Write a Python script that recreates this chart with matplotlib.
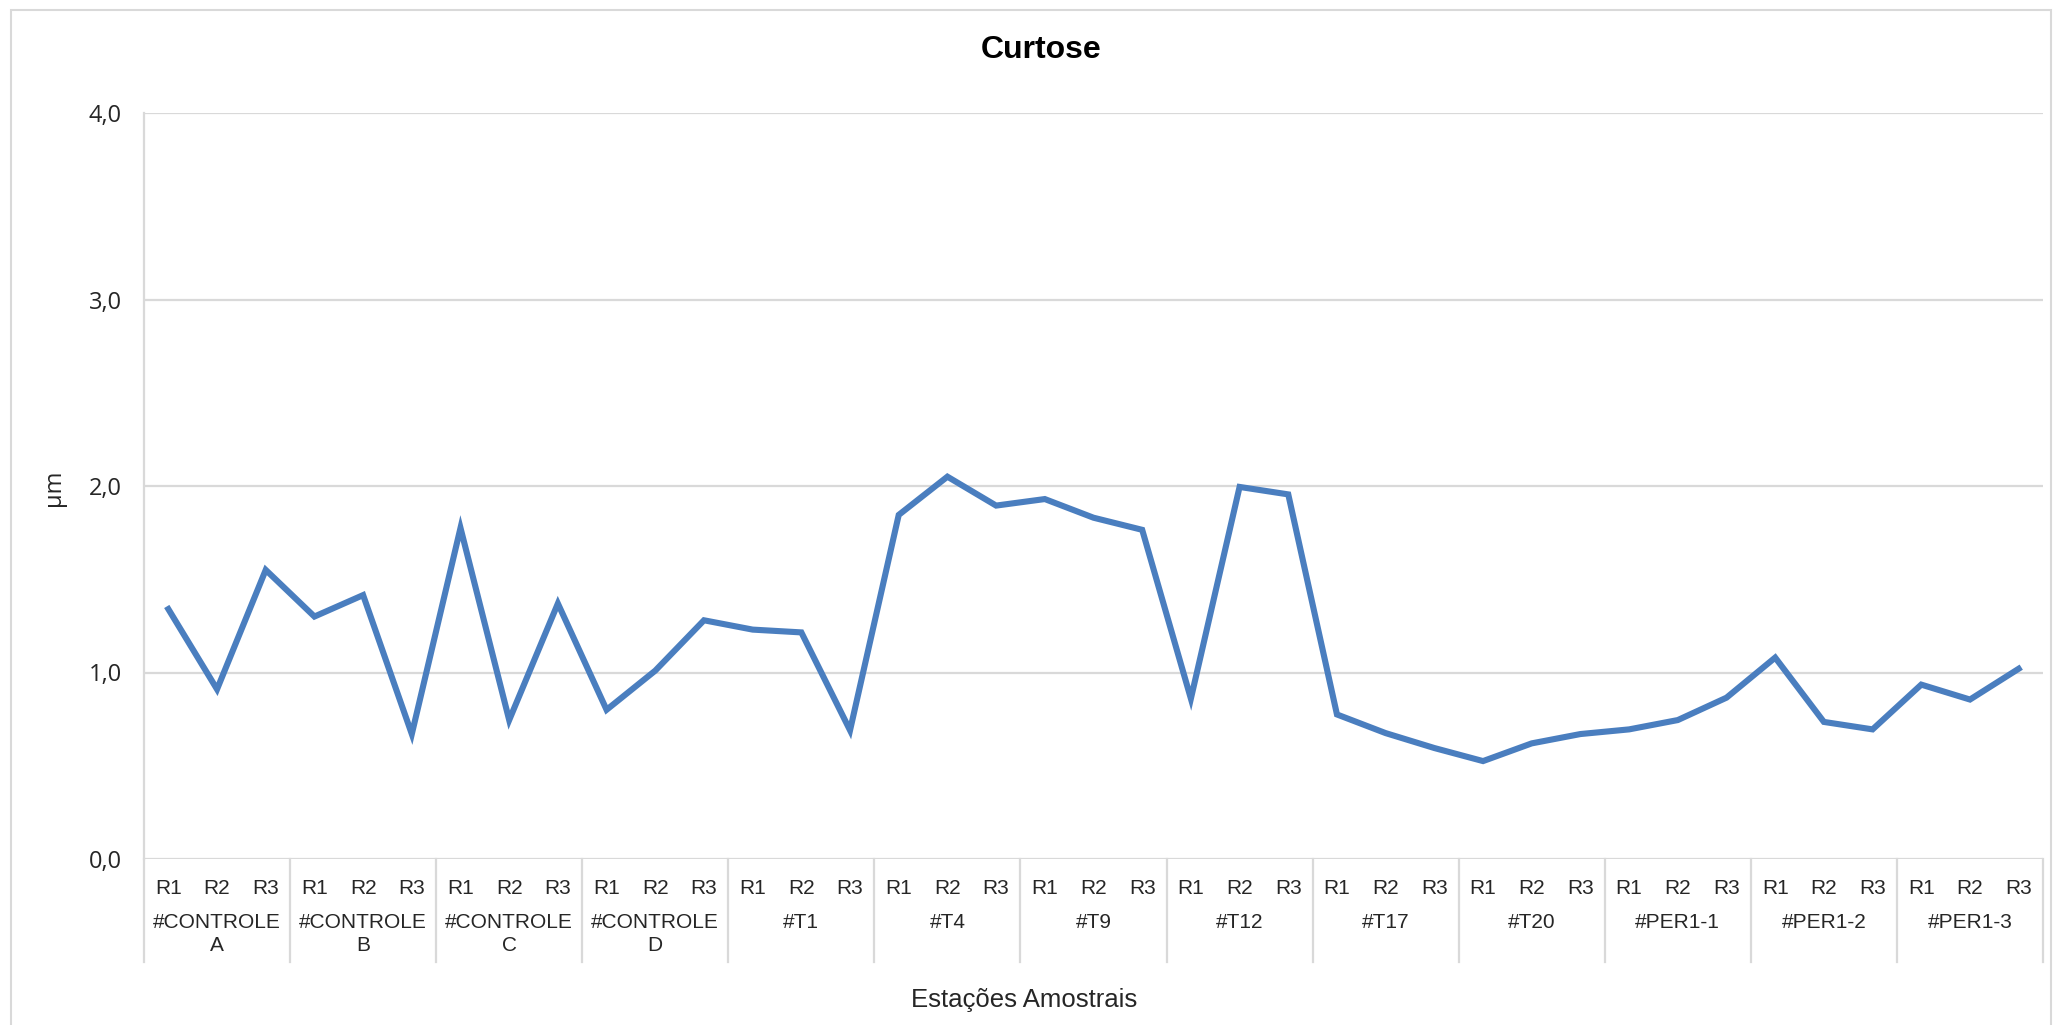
import matplotlib
matplotlib.use("Agg")
import matplotlib.pyplot as plt
import matplotlib.transforms as mtransforms
from matplotlib.patches import Rectangle

# Sampling stations and replicates
stations = ["#CONTROLE\nA", "#CONTROLE\nB", "#CONTROLE\nC", "#CONTROLE\nD",
            "#T1", "#T4", "#T9", "#T12", "#T17", "#T20",
            "#PER1-1", "#PER1-2", "#PER1-3"]
replicates = ["R1", "R2", "R3"]

# Kurtosis per station / replicate
curtose = [1.34, 0.91, 1.55,
           1.30, 1.415, 0.67,
           1.775, 0.745, 1.37,
           0.80, 1.01, 1.28,
           1.23, 1.215, 0.69,
           1.845, 2.05, 1.895,
           1.93, 1.83, 1.765,
           0.86, 1.995, 1.955,
           0.775, 0.675, 0.595,
           0.525, 0.62, 0.67,
           0.695, 0.745, 0.865,
           1.08, 0.735, 0.695,
           0.935, 0.855, 1.02]

y_ticks = [0.0, 1.0, 2.0, 3.0, 4.0]
y_tick_labels = ["0,0", "1,0", "2,0", "3,0", "4,0"]

TEXT = "#262626"
GRID = "#D9D9D9"
label_font = "Liberation Sans"

W, H = 2058, 1025
fig = plt.figure(figsize=(W / 100, H / 100), dpi=100)
fig.patch.set_facecolor("white")

# chart-area frame
fig.patches.append(Rectangle((11 / W, -0.05), (2051 - 11) / W, 1.05 - 10 / H,
                             transform=fig.transFigure, fill=False,
                             edgecolor=GRID, linewidth=1.5))

left, right, top, bottom = 144, 2043, 113, 859
ax = fig.add_axes([left / W, 1 - bottom / H, (right - left) / W, (bottom - top) / H])

n = len(curtose)
xs = list(range(n))
ax.plot(xs, curtose, color="#4A7EBF", linewidth=4.4, solid_joinstyle="miter", zorder=3)

ax.set_xlim(-0.5, n - 0.5)
ax.set_ylim(0, 4)
ax.set_yticks(y_ticks)
ax.set_yticklabels(y_tick_labels, fontsize=17, family="Open Sans", color=TEXT)
ax.tick_params(axis="y", length=0, pad=16)
ax.set_xticks([])
ax.grid(axis="y", color=GRID, linewidth=1.6, zorder=0)
for s in ["top", "right", "bottom"]:
    ax.spines[s].set_visible(False)
ax.spines["left"].set_color(GRID)
ax.spines["left"].set_linewidth(1.6)

trans = mtransforms.blended_transform_factory(ax.transData, ax.transAxes)
ax_h = bottom - top

# replicate labels
for i in range(n):
    ax.text(i, -(888 - bottom) / ax_h, replicates[i % 3], transform=trans,
            ha="center", va="center", fontsize=15, family=label_font, color=TEXT)

# station labels and separators
sep_low = -(962 - bottom) / ax_h
for g, name in enumerate(stations):
    ax.text(g * 3 + 1, -(913 - bottom) / ax_h, name, transform=trans,
            ha="center", va="top", fontsize=15, family=label_font,
            color=TEXT, linespacing=1.27)
for g in range(len(stations) + 1):
    xb = g * 3 - 0.5
    ax.plot([xb, xb], [0, sep_low], transform=trans, color=GRID,
            linewidth=1.6, clip_on=False)

fig.text(1041 / W, 1 - 50 / H, "Curtose", ha="center", va="center",
         fontsize=23, fontweight="bold", family="Liberation Sans", color="#000000")
fig.text(1024 / W, 1 - 1000 / H, "Estações Amostrais", ha="center", va="center",
         fontsize=18.5, family=label_font, color=TEXT)
fig.text(54 / W, 1 - 488 / H, "µm", ha="center", va="center", rotation=90,
         fontsize=17, family="Open Sans", color=TEXT)

fig.savefig("out.png", dpi=100, facecolor="white")
